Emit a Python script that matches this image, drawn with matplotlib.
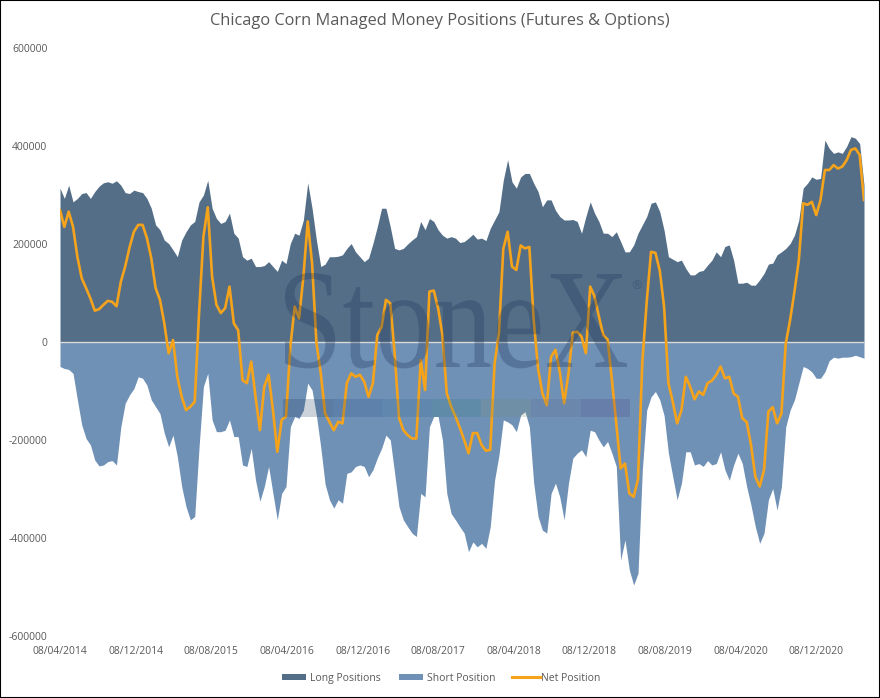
import numpy as np
import pandas as pd
import matplotlib
matplotlib.use('Agg')
import matplotlib.pyplot as plt
import matplotlib.transforms as mtransforms
from matplotlib.patches import PathPatch, Rectangle
from matplotlib.lines import Line2D
from matplotlib.textpath import TextPath
from matplotlib.font_manager import FontProperties

plt.rcParams['font.family'] = ['Open Sans', 'DejaVu Sans']

# fortnightly readings, thousands of contracts, from 08/04/2014
long_k = [314, 293, 320, 286, 293, 303, 305, 293, 307, 318,
          325, 327, 324, 329, 320, 305, 303, 310, 307, 305,
          293, 273, 239, 229, 208, 201, 188, 174, 208, 225,
          239, 246, 286, 300, 330, 273, 252, 242, 246, 263,
          222, 212, 174, 167, 171, 154, 154, 156,
          164, 154, 144, 167, 160, 201, 222, 218, 249, 325,
          273, 208, 154, 159, 174, 174, 175, 178, 191, 201,
          184, 174, 164, 171, 201, 235, 273, 273, 235, 191,
          188, 191, 200, 208, 215, 246, 229, 252, 246, 229,
          218, 212, 215, 212, 203, 205,
          212, 220, 210, 212, 207, 232, 249, 266, 330, 372,
          327, 314, 337, 344, 344, 324, 307, 276, 290, 290,
          269, 256, 249, 249, 250, 246, 222, 256, 286, 263,
          246, 222, 222, 215, 225, 205, 184, 184, 198, 222,
          239, 256, 283, 286, 266, 228,
          174, 169, 164, 167, 150, 137, 137, 144, 146, 157,
          167, 184, 174, 195, 198, 167, 120, 120, 122, 116,
          116, 127, 140, 159, 161, 178, 184, 191, 201, 218,
          249, 314, 324, 337, 332, 334, 412, 395, 385, 388,
          385, 399, 419, 416, 405, 320]

short_k = [-50, -54, -56, -64, -118, -169, -197, -210, -241, -253,
           -251, -244, -242, -251, -173, -125, -108, -95, -71, -74,
           -88, -118, -132, -146, -186, -214, -190, -234, -295, -336,
           -363, -356, -214, -91, -64, -159, -183, -183, -180, -159,
           -193, -193, -251, -254, -217, -282, -325, -295,
           -254, -309, -363, -309, -295, -173, -152, -156, -139, -84,
           -98, -150, -215, -290, -322, -339, -322, -329, -268, -265,
           -254, -251, -254, -275, -261, -237, -217, -190, -200, -268,
           -336, -363, -377, -390, -397, -309, -316, -173, -152, -152,
           -200, -309, -350, -363, -377, -390,
           -428, -408, -418, -411, -421, -377, -282, -231, -159, -163,
           -169, -183, -149, -142, -173, -288, -356, -384, -390, -309,
           -288, -316, -363, -288, -237, -227, -220, -234, -180, -183,
           -200, -214, -203, -227, -254, -445, -404, -465, -496, -472,
           -260, -139, -112, -101, -118, -150,
           -227, -275, -322, -288, -224, -224, -251, -248, -254, -242,
           -251, -248, -224, -261, -282, -251, -227, -248, -295, -333,
           -377, -411, -390, -322, -299, -343, -295, -173, -139, -118,
           -84, -50, -54, -61, -74, -74, -61, -38, -31, -33,
           -31, -31, -30, -27, -30, -33]

net_k = [269, 235, 266, 235, 174, 130, 110, 89, 64, 67,
         76, 84, 82, 73, 123, 154, 193, 225, 239, 239,
         212, 171, 110, 86, 38, -23, 4, -71, -112, -139,
         -132, -122, 59, 215, 275, 133, 76, 59, 69, 113,
         38, 24, -78, -84, -40, -112, -180, -91,
         -67, -139, -224, -159, -152, -10, 72, 48, 133, 246,
         161, -1, -64, -146, -163, -180, -163, -166, -84, -64,
         -71, -67, -81, -112, -84, 14, 31, 86, 79, -23,
         -154, -180, -190, -197, -197, -37, -98, 103, 105, 69,
         14, -105, -132, -152, -175, -200,
         -227, -186, -186, -210, -222, -220, -44, 18, 190, 225,
         154, 147, 197, 191, 194, 45, -54, -105, -129, -30,
         -16, -61, -125, -64, 19, 21, 11, -23, 113, 93,
         52, 14, 5, -78, -166, -258, -248, -309, -316, -280,
         -40, 82, 184, 182, 146, 72,
         -84, -122, -166, -139, -71, -91, -117, -101, -108, -84,
         -79, -67, -50, -74, -71, -105, -112, -156, -163, -210,
         -275, -295, -261, -142, -133, -166, -146, -3, 45, 103,
         167, 283, 280, 286, 259, 290, 351, 351, 361, 354,
         358, 371, 392, 395, 382, 290]

dates = pd.date_range('2014-04-08', periods=len(long_k), freq='14D')
long_pos = np.array(long_k) * 1000
short_pos = np.array(short_k) * 1000
net_pos = np.array(net_k) * 1000

tick_labels = ['08/04/2014', '08/12/2014', '08/08/2015', '08/04/2016',
               '08/12/2016', '08/08/2017', '08/04/2018', '08/12/2018',
               '08/08/2019', '08/04/2020', '08/12/2020']
tick_dates = pd.to_datetime(tick_labels, format='%d/%m/%Y')
y_ticks = [-600000, -400000, -200000, 0, 200000, 400000, 600000]
legend_names = ['Long Positions', 'Short Position', 'Net Position']

c_long = '#546e88'
c_short = '#7091b6'
c_net = '#f5a31a'
c_text = '#595959'
c_mark = '#1a3359'

W, H = 880, 698
fig = plt.figure(figsize=(W/100, H/100), dpi=100)
ax = fig.add_axes([60/W, 62/H, 804/W, 588/H])

ax.fill_between(dates, 0, long_pos, color=c_long, lw=0, zorder=1)
ax.fill_between(dates, 0, short_pos, color=c_short, lw=0, zorder=1)
ax.axhline(0, color='#d9d9d9', lw=1, zorder=2)

# StoneX watermark, squeezed to the box it takes in the picture
tp = TextPath((0, 0), 'StoneX', size=100, prop=FontProperties(family='Liberation Serif'))
bb = tp.get_extents()
sx = 342 / bb.width
sy = 94 / bb.y1
aff = mtransforms.Affine2D().translate(-bb.x0, 0).scale(sx, sy).translate(285, H - 367)
fig.patches.append(PathPatch(tp, transform=aff, facecolor=c_mark, edgecolor='none',
                             alpha=0.3, zorder=3))
fig.text(636/W, 1 - 286/H, '\u00ae', fontsize=9, color=c_mark, alpha=0.3,
         ha='center', va='center', family='DejaVu Sans')
bar_cols = ['#1a3359', '#1a4a80', '#2a6a9a', '#2a7a7a', '#6a8a6a', '#5a6a8a', '#4a3a80']
for k, col in enumerate(bar_cols):
    x0 = 283 + k * 49.6
    fig.patches.append(Rectangle((x0/W, 1 - 417/H), 49.6/W, 18/H,
                                 transform=fig.transFigure, facecolor=col,
                                 edgecolor='none', alpha=0.22, zorder=3))

ax.plot(dates, net_pos, color=c_net, lw=1.9, zorder=5, solid_joinstyle='round')
ax.set_zorder(0)

ax.set_xlim(dates[0], dates[-1])
ax.set_ylim(-600000, 600000)
ax.set_xticks(tick_dates)
ax.set_xticklabels(tick_labels)
ax.set_yticks(y_ticks)
ax.set_yticklabels([str(v) for v in y_ticks])
ax.tick_params(length=0, labelsize=7.5, colors=c_text)
ax.tick_params(axis='x', pad=7)
ax.tick_params(axis='y', pad=9)
for s in ax.spines.values():
    s.set_visible(False)

fig.text(0.5, 1 - 21/H, 'Chicago Corn Managed Money Positions (Futures & Options)',
         ha='center', va='center', fontsize=11.8, color=c_text)

# legend laid out by hand along the bottom, all labels on one baseline
ly = 1 - 677/H
base = 1 - 681/H
for name, col, x0 in [(legend_names[0], c_long, 282), (legend_names[1], c_short, 399)]:
    fig.patches.append(Rectangle((x0/W, 1 - 680/H), 24/W, 6/H, transform=fig.transFigure,
                                 facecolor=col, edgecolor='none'))
    fig.text((x0 + 28)/W, base, name, fontsize=7.5, color=c_text, va='baseline', ha='left')
fig.lines.append(Line2D([512/W, 540/W], [ly, ly], transform=fig.transFigure,
                        color=c_net, lw=2.2))
fig.text(541/W, base, legend_names[2], fontsize=7.5, color=c_text, va='baseline', ha='left')

fig.patches.append(Rectangle((0, 0), 1, 1, transform=fig.transFigure, fill=False,
                             edgecolor='black', lw=1.5, zorder=10))

fig.savefig('out.png', dpi=100)
